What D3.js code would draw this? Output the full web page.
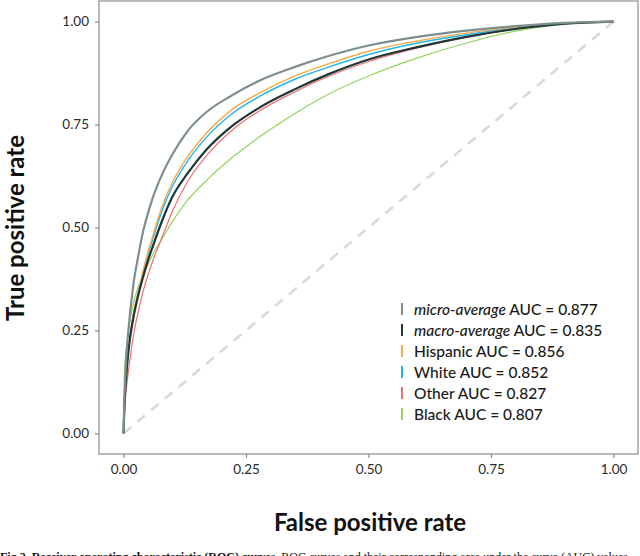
<!DOCTYPE html>
<html>
<head>
<meta charset="utf-8">
<script src="https://cdn.jsdelivr.net/npm/d3@7"></script>
<style>
  body { margin: 0; background: #fff; }
  svg { display: block; }
</style>
</head>
<body>
<svg id="chart" width="640" height="556"></svg>
<script>
var fpr = [0, 0.002, 0.005, 0.01, 0.02, 0.03, 0.04, 0.05, 0.06, 0.08, 0.10, 0.13, 0.17, 0.22, 0.28, 0.35, 0.42, 0.50, 0.60, 0.70, 0.80, 0.90, 1];

// true positive rates at those points, one list per curve
var microTpr    = [0, 0.09, 0.17, 0.25, 0.36, 0.43, 0.49, 0.535, 0.573, 0.632, 0.678, 0.733, 0.781, 0.82, 0.858, 0.89, 0.917, 0.942, 0.963, 0.978, 0.989, 0.997, 1];
var macroTpr    = [0, 0.07, 0.13, 0.20, 0.28, 0.335, 0.38, 0.42, 0.455, 0.52, 0.575, 0.63, 0.69, 0.745, 0.793, 0.836, 0.873, 0.908, 0.938, 0.963, 0.982, 0.995, 1];
var hispanicTpr = [0, 0.07, 0.13, 0.20, 0.29, 0.345, 0.395, 0.44, 0.48, 0.555, 0.61, 0.67, 0.73, 0.785, 0.828, 0.868, 0.898, 0.928, 0.953, 0.972, 0.986, 0.996, 1];
var whiteTpr    = [0, 0.07, 0.13, 0.20, 0.285, 0.34, 0.39, 0.435, 0.473, 0.545, 0.60, 0.66, 0.72, 0.775, 0.82, 0.86, 0.89, 0.92, 0.948, 0.968, 0.985, 0.996, 1];
var otherTpr    = [0, 0.05, 0.10, 0.15, 0.235, 0.295, 0.345, 0.385, 0.42, 0.48, 0.54, 0.61, 0.675, 0.735, 0.785, 0.83, 0.868, 0.903, 0.936, 0.962, 0.982, 0.995, 1];
var blackTpr    = [0, 0.15, 0.20, 0.25, 0.315, 0.355, 0.385, 0.41, 0.435, 0.475, 0.515, 0.565, 0.615, 0.668, 0.722, 0.777, 0.825, 0.868, 0.912, 0.948, 0.977, 0.994, 1];

var seriesNames = ["micro-average", "macro-average", "Hispanic", "White", "Other", "Black"];
var seriesAuc = ["0.877", "0.835", "0.856", "0.852", "0.827", "0.807"];
var seriesTpr = [microTpr, macroTpr, hispanicTpr, whiteTpr, otherTpr, blackTpr];
var seriesColors = ["#7d8e8e", "#1d3638", "#f7a848", "#22b5ee", "#f46e6e", "#95d55a"];
var seriesWidths = [2.2, 2.2, 1.4, 1.4, 1.2, 1.2];
var italicName = [true, true, false, false, false, false];

var tickValues = [0, 0.25, 0.5, 0.75, 1];

var svg = d3.select("#chart");
var font = "Lato, 'Open Sans', sans-serif";

// panel, with 5% expansion on each side like ggplot
var panel = {left: 99, right: 638, top: 1, bottom: 454};
var x = d3.scaleLinear().domain([-0.05, 1.05]).range([panel.left, panel.right]);
var y = d3.scaleLinear().domain([-0.05, 1.05]).range([panel.bottom, panel.top]);

// chance line
svg.append("line")
    .attr("x1", x(0)).attr("y1", y(0))
    .attr("x2", x(1)).attr("y2", y(1))
    .attr("stroke", "#d9d9d9")
    .attr("stroke-width", 2.6)
    .attr("stroke-dasharray", "10,8");

var line = d3.line()
    .x(function(d, i) { return x(fpr[i]); })
    .y(function(d) { return y(d); })
    .curve(d3.curveMonotoneX);

// draw from back to front
var drawOrder = [5, 4, 3, 2, 1, 0];
svg.append("g")
    .selectAll("path")
    .data(drawOrder)
    .enter().append("path")
    .attr("d", function(i) { return line(seriesTpr[i]); })
    .attr("fill", "none")
    .attr("stroke", function(i) { return seriesColors[i]; })
    .attr("stroke-width", function(i) { return seriesWidths[i]; })
    .attr("stroke-linejoin", "round");

// panel border
svg.append("rect")
    .attr("x", panel.left).attr("y", panel.top)
    .attr("width", panel.right - panel.left)
    .attr("height", panel.bottom - panel.top)
    .attr("fill", "none")
    .attr("stroke", "#9e9e9e")
    .attr("stroke-width", 1.4);

// axes
var xAxis = svg.append("g")
    .attr("transform", "translate(0," + panel.bottom + ")")
    .call(d3.axisBottom(x).tickValues(tickValues).tickFormat(d3.format(".2f")).tickSize(4).tickPadding(6));
var yAxis = svg.append("g")
    .attr("transform", "translate(" + panel.left + ",0)")
    .call(d3.axisLeft(y).tickValues(tickValues).tickFormat(d3.format(".2f")).tickSize(4).tickPadding(6));

[xAxis, yAxis].forEach(function(a) {
    a.select(".domain").remove();
    a.selectAll(".tick line").attr("stroke", "#8a8a8a").attr("stroke-width", 1.2);
    a.selectAll(".tick text")
        .attr("fill", "#2b2b2b")
        .style("font-family", font)
        .style("font-size", "13.5px");
});

// axis titles
svg.append("text")
    .attr("x", 370).attr("y", 531)
    .attr("text-anchor", "middle")
    .style("font-family", font)
    .style("font-size", "24px")
    .style("font-weight", "700")
    .attr("fill", "#111")
    .text("False positive rate");

svg.append("text")
    .attr("transform", "translate(24,228) rotate(-90)")
    .attr("text-anchor", "middle")
    .style("font-family", font)
    .style("font-size", "24px")
    .style("font-weight", "700")
    .attr("fill", "#111")
    .text("True positive rate");

// legend
var legend = svg.append("g").attr("transform", "translate(402,309)");
var rows = legend.selectAll("g")
    .data(d3.range(seriesNames.length))
    .enter().append("g")
    .attr("transform", function(i) { return "translate(0," + (i * 21) + ")"; });

rows.append("line")
    .attr("x1", 0).attr("x2", 0)
    .attr("y1", -6).attr("y2", 6)
    .attr("stroke", function(i) { return seriesColors[i]; })
    .attr("stroke-width", 2);

var labels = rows.append("text")
    .attr("x", 12).attr("y", 5.5)
    .attr("fill", "#1a1a1a")
    .style("font-family", font)
    .style("font-size", "15.5px")
    .style("font-weight", "500");
labels.append("tspan")
    .style("font-style", function(i) { return italicName[i] ? "italic" : "normal"; })
    .text(function(i) { return seriesNames[i]; });
labels.append("tspan")
    .text(function(i) { return " AUC = " + seriesAuc[i]; });

// figure caption, cut off at the bottom edge as in the source
var caption = svg.append("text")
    .attr("x", 0).attr("y", 561)
    .attr("fill", "#111")
    .style("font-family", "'Liberation Serif', 'DejaVu Serif', serif")
    .style("font-size", "12px");
caption.append("tspan")
    .style("font-weight", "700")
    .text("Fig 2. Receiver operating characteristic (ROC) curves.");
caption.append("tspan")
    .text(" ROC curves and their corresponding area under the curve (AUC) values.");
</script>
</body>
</html>
